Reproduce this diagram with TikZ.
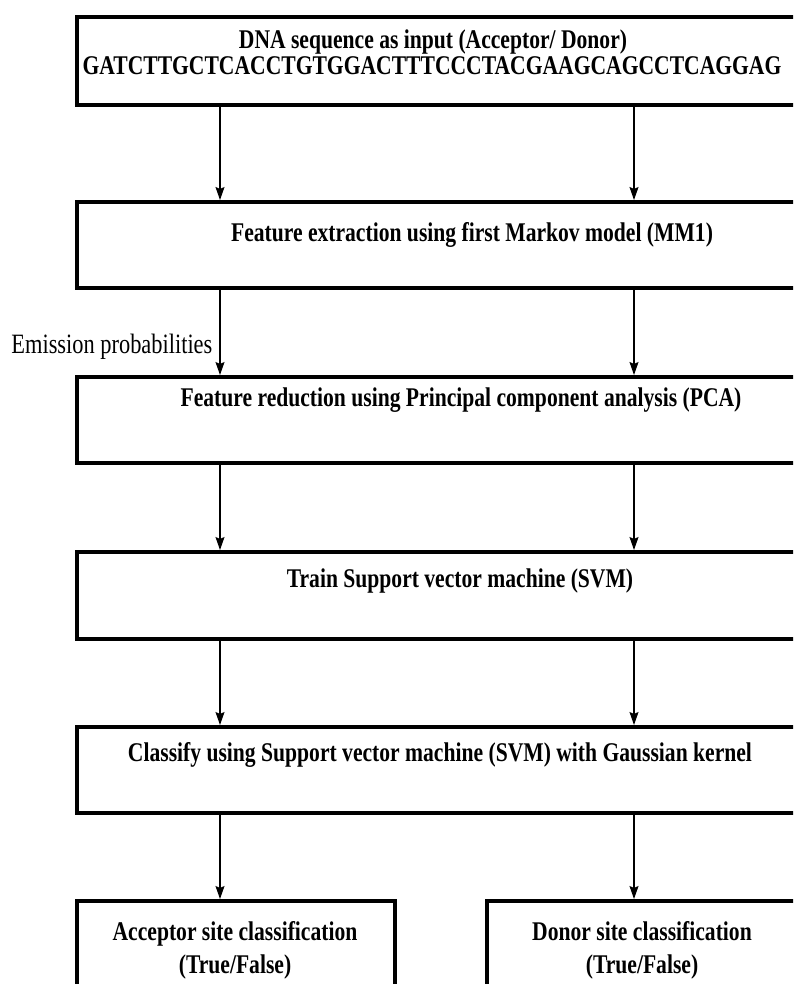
\documentclass[tikz,border=0pt]{standalone}
\usepackage{fontspec}
\setmainfont{Liberation Serif}[FakeStretch=0.8]
\usetikzlibrary{arrows.meta}

\begin{document}
\begin{tikzpicture}[x=1pt,y=-1pt,
    stagebox/.style={draw,line width=4pt,inner sep=0pt,anchor=north west},
    stagetext/.style={font=\bfseries\fontsize{27}{29}\selectfont,anchor=base,inner sep=0pt},
    flow/.style={-{Stealth[length=13pt,width=9pt,inset=2pt]},line width=1.2pt}]
  \useasboundingbox (0,0) rectangle (793,984);
  \clip (0,0) rectangle (793,984);

  %------------------
  % boxes
  %------------------
  \node[stagebox,minimum width=780pt,minimum height=88pt] (dnabox) at (75,15) {};
  \node[stagebox,minimum width=780pt,minimum height=86pt] (mmbox) at (75,200) {};
  \node[stagebox,minimum width=780pt,minimum height=86pt] (pcabox) at (75,375) {};
  \node[stagebox,minimum width=780pt,minimum height=87pt] (trainbox) at (75,550) {};
  \node[stagebox,minimum width=780pt,minimum height=86pt] (classbox) at (75,725) {};
  \node[stagebox,minimum width=318pt,minimum height=111pt] (accbox) at (75,899) {};
  \node[stagebox,minimum width=415pt,minimum height=111pt] (donbox) at (485,899) {};

  %------------------
  % texts
  %------------------
  \node[stagetext] (dnatext) at (433,49) {DNA sequence as input (Acceptor/ Donor)};
  \node[stagetext] (seqtext) at (432,75) {GATCTTGCTCACCTGTGGACTTTCCCTACGAAGCAGCCTCAGGAG};
  \node[stagetext] (mmtext) at (472,241) {Feature extraction using first Markov model (MM1)};
  \node[stagetext] (pcatext) at (461,406) {Feature reduction using Principal component analysis (PCA)};
  \node[stagetext] (traintext) at (460,587) {Train Support vector machine (SVM)};
  \node[stagetext] (classtext) at (440,761) {Classify using Support vector machine (SVM) with Gaussian kernel};
  \node[stagetext] (acctext) at (235,940) {Acceptor site classification};
  \node[stagetext] (acctf) at (235,973) {(True/False)};
  \node[stagetext] (dontext) at (642,940) {Donor site classification};
  \node[stagetext] (dontf) at (642,973) {(True/False)};

  %------------------
  % arrows
  %------------------
  \coordinate (colL) at (220,0);
  \coordinate (colR) at (634,0);

  \draw[flow] (dnabox.south -| colL) -- (mmbox.north -| colL);
  \draw[flow] (dnabox.south -| colR) -- (mmbox.north -| colR);
  \draw[flow] (mmbox.south -| colL) --
    node[pos=0.75,anchor=base east,xshift=-7pt,inner sep=0pt,font=\fontsize{28}{30}\selectfont] (emitlabel) {Emission probabilities}
    (pcabox.north -| colL);
  \draw[flow] (mmbox.south -| colR) -- (pcabox.north -| colR);
  \foreach \a/\b in {pcabox/trainbox,trainbox/classbox}{
    \draw[flow] (\a.south -| colL) -- (\b.north -| colL);
    \draw[flow] (\a.south -| colR) -- (\b.north -| colR);
  }
  \draw[flow] (classbox.south -| colL) -- (accbox.north -| colL);
  \draw[flow] (classbox.south -| colR) -- (donbox.north -| colR);
\end{tikzpicture}
\end{document}
